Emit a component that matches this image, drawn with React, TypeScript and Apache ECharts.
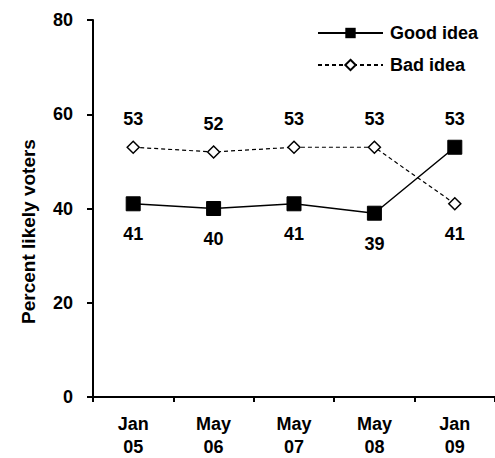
import React, { useEffect, useRef } from "react";
import * as echarts from "echarts";

const categories = ["Jan\n05", "May\n06", "May\n07", "May\n08", "Jan\n09"];
const goodIdea = [41, 40, 41, 39, 53];
const badIdea = [53, 52, 53, 53, 41];
const goodLabelPos = ["bottom", "bottom", "bottom", "bottom", "top"];
const badLabelPos = ["top", "top", "top", "top", "bottom"];
const yTicks = [0, 20, 40, 60, 80];

const FONT = "'Liberation Sans', Arial, sans-serif";

export default function App() {
  const ref = useRef<HTMLDivElement>(null);
  useEffect(() => {
    const chart = echarts.init(ref.current!, null, { renderer: "svg" });
    const labelStyle = {
      show: true,
      fontFamily: FONT,
      fontWeight: "bold",
      fontSize: 18,
      color: "#000",
    };
    const lab = (pos: string) => ({ position: pos, distance: pos === "top" ? 12 : 14 });
    chart.setOption({
      animation: false,
      backgroundColor: "#fff",
      grid: { left: 93, right: 0, top: 20, bottom: 58, containLabel: false },
      legend: {
        orient: "vertical",
        right: 12,
        top: 19,
        itemWidth: 65,
        itemHeight: 13,
        itemGap: 14,
        textStyle: {
          fontFamily: FONT,
          fontWeight: "bold",
          fontSize: 18,
          color: "#000",
          padding: [0, 0, 0, 2],
        },
        data: ["Good idea", "Bad idea"],
      },
      xAxis: {
        type: "category",
        data: categories,
        boundaryGap: true,
        axisLine: { lineStyle: { color: "#000", width: 2 } },
        axisTick: { show: true, length: 5, lineStyle: { color: "#000", width: 2 } },
        axisLabel: {
          fontFamily: FONT,
          fontWeight: "bold",
          fontSize: 18,
          color: "#000",
          margin: 15,
          lineHeight: 23,
        },
      },
      yAxis: {
        type: "value",
        min: yTicks[0],
        max: yTicks[yTicks.length - 1],
        interval: 20,
        name: "Percent likely voters",
        nameLocation: "middle",
        nameGap: 55,
        nameRotate: 90,
        nameTextStyle: {
          fontFamily: FONT,
          fontWeight: "bold",
          fontSize: 19,
          color: "#000",
          padding: [0, 46, 0, 0],
        },
        axisLine: { show: true, lineStyle: { color: "#000", width: 2 } },
        axisTick: { show: true, length: 6, lineStyle: { color: "#000", width: 2 } },
        splitLine: { show: false },
        axisLabel: {
          fontFamily: FONT,
          fontWeight: "bold",
          fontSize: 18,
          color: "#000",
          margin: 20,
        },
      },
      series: [
        {
          name: "Good idea",
          type: "line",
          data: goodIdea.map((v, i) => ({ value: v, label: lab(goodLabelPos[i]) })),
          symbol: "rect",
          symbolSize: 14,
          itemStyle: { color: "#000", borderColor: "#000" },
          lineStyle: { color: "#000", width: 1.5, type: "solid" },
          label: labelStyle,
          z: 3,
        },
        {
          name: "Bad idea",
          type: "line",
          data: badIdea.map((v, i) => ({ value: v, label: lab(badLabelPos[i]) })),
          symbol: "diamond",
          symbolSize: 12,
          itemStyle: { color: "#fff", borderColor: "#000", borderWidth: 1.5 },
          lineStyle: { color: "#000", width: 1.2, type: [4, 3] },
          label: labelStyle,
          z: 2,
        },
      ],
    });
    return () => chart.dispose();
  }, []);
  return (
    <div
      ref={ref}
      style={{ position: "fixed", left: 0, top: 0, width: 495, height: 458 }}
    />
  );
}
